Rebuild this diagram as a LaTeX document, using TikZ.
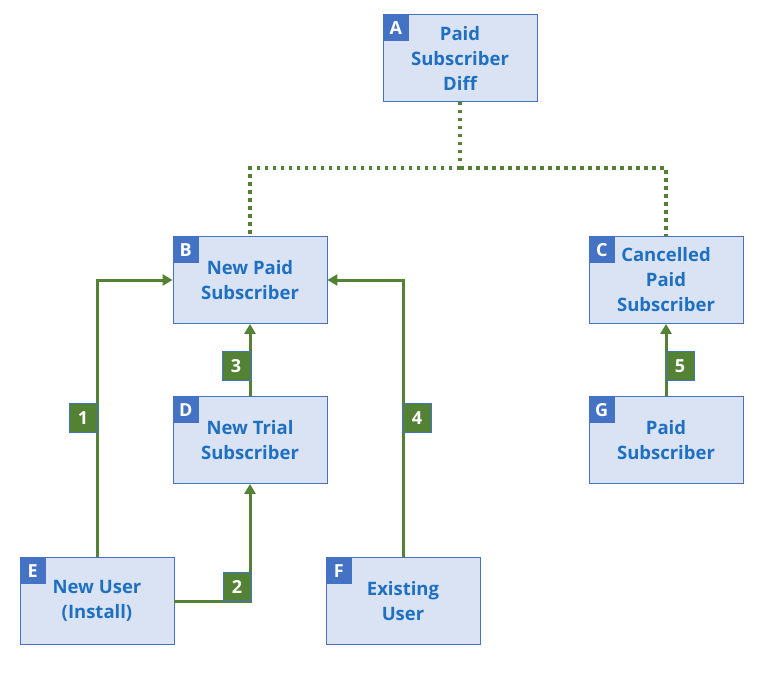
\documentclass[tikz,border=0pt]{standalone}
\usepackage{fontspec}
\setmainfont{Open Sans}
\usetikzlibrary{arrows.meta,positioning}
\definecolor{boxfill}{HTML}{DAE3F3}
\definecolor{boxline}{HTML}{4472C4}
\definecolor{txtblue}{HTML}{1F70C1}
\definecolor{grn}{HTML}{548235}
\begin{document}
\begin{tikzpicture}[x=1pt,y=-1pt,
  box/.style={draw=boxline,line width=0.9pt,fill=boxfill,minimum width=154pt,minimum height=87pt,inner sep=0pt,align=center,text=txtblue,font=\fontsize{18.5}{25}\selectfont\bfseries},
  tag/.style={fill=boxline,minimum width=26pt,minimum height=27pt,inner sep=0pt,text=white,font=\fontsize{18}{18}\selectfont\bfseries,anchor=north west},
  num/.style={draw=boxline,line width=0.8pt,fill=grn,minimum width=28pt,minimum height=29pt,inner sep=0pt,text=white,font=\fontsize{18}{18}\selectfont\bfseries},
  flow/.style={draw=grn,line width=3pt,-{Triangle[length=10pt,width=11pt]}},
  dots/.style={draw=grn,line width=3.5pt,dash pattern=on 3.5pt off 4.5pt}
]
\useasboundingbox (0,0) rectangle (773,672);
% boxes
\node[box] (A) at (460,58) {Paid\\Subscriber\\Diff};
\node[box] (B) at (250,280) {New Paid\\Subscriber};
\node[box] (C) at (666,280) {Cancelled\\Paid\\Subscriber};
\node[box] (D) at (250,440) {New Trial\\Subscriber};
\node[box] (G) at (666,440) {Paid\\Subscriber};
\node[box] (E) at (97,601) {New User\\(Install)};
\node[box] (F) at (403,601) {Existing\\User};
% corner tags
\node[tag] (tA) at (A.north west) {A};
\node[tag] (tB) at (B.north west) {B};
\node[tag] (tC) at (C.north west) {C};
\node[tag] (tD) at (D.north west) {D};
\node[tag] (tG) at (G.north west) {G};
\node[tag] (tE) at (E.north west) {E};
\node[tag] (tF) at (F.north west) {F};
% dotted hierarchy
\coordinate (split) at (460,168);
\draw[dots] (A.south) -- (split);
\draw[dots] (split) -| (B.north);
\draw[dots] (split) -| (C.north);
% flows
\draw[flow] (E.north) |- (B.west);
\draw[flow] (E.east) -| (D.south);
\draw[flow] (D.north) -- (B.south);
\draw[flow] (F.north) |- (B.east);
\draw[flow] (G.north) -- (C.south);
% numbers
\node[num] (n1) at (83,418) {1};
\node[num] (n2) at (237,587) {2};
\node[num] (n3) at (236,366) {3};
\node[num] (n4) at (417,418) {4};
\node[num] (n5) at (680,366) {5};
\end{tikzpicture}
\end{document}
